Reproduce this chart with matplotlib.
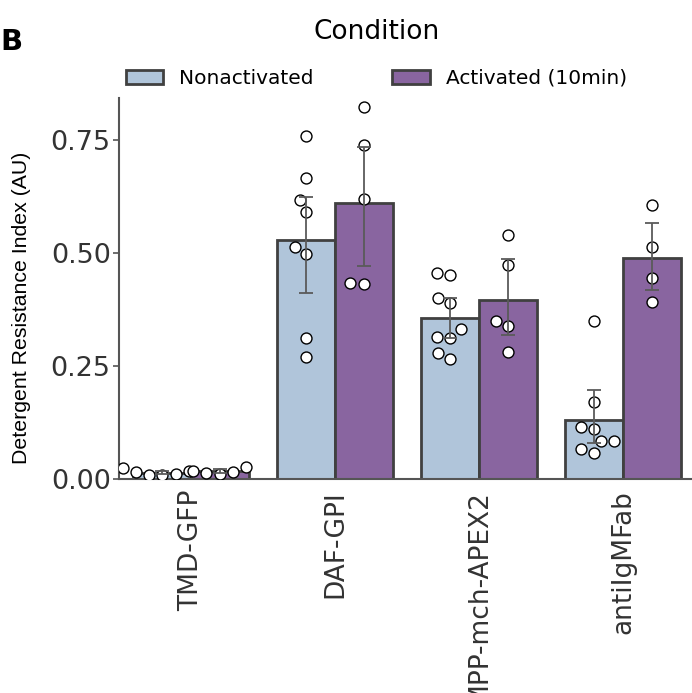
import numpy as np
import matplotlib
matplotlib.use("Agg")
import matplotlib.pyplot as plt
from matplotlib.patches import Patch

groups = ["TMD-GFP", "DAF-GPI", "MPP-mch-APEX2", "antiIgMFab"]
conditions = ["Nonactivated", "Activated (10min)"]
colors = ["#b0c5da", "#8965a0"]

# individual replicate values, per group, per condition
nonact_points = [
    [0.024, 0.017, 0.008, 0.009, 0.010, 0.015],
    [0.759, 0.665, 0.617, 0.591, 0.514, 0.498, 0.311, 0.271],
    [0.455, 0.451, 0.400, 0.390, 0.331, 0.315, 0.313, 0.279, 0.265],
    [0.350, 0.171, 0.110, 0.116, 0.083, 0.083, 0.066, 0.057],
]
act_points = [
    [0.018, 0.027, 0.013, 0.012, 0.016],
    [0.824, 0.740, 0.619, 0.434, 0.431],
    [0.540, 0.473, 0.350, 0.338, 0.282],
    [0.606, 0.514, 0.444, 0.392],
]

# 95% CI bounds
nonact_ci_low = [0.010, 0.412, 0.313, 0.079]
nonact_ci_high = [0.018, 0.625, 0.400, 0.197]
act_ci_low = [0.013, 0.471, 0.319, 0.418]
act_ci_high = [0.022, 0.735, 0.486, 0.566]

yticks = [0.0, 0.25, 0.5, 0.75]


def swarm_x(values, ax, center, diam):
    """Simple beeswarm: place each point as close to center as possible,
    left side wins ties (like seaborn)."""
    t = ax.transData
    ys = t.transform(np.column_stack([np.full(len(values), center), values]))[:, 1]
    ppu = t.transform((1, 0))[0] - t.transform((0, 0))[0]
    order = np.argsort(values, kind="stable")
    placed = []
    xs = np.zeros(len(values))
    for i in order:
        y = ys[i]
        left, right = [], []
        for px, py in placed:
            dy = abs(py - y)
            if dy < diam:
                dx = np.sqrt(diam ** 2 - dy ** 2)
                left.append(px - dx)
                right.append(px + dx)
        cands = [0.0] + left + right
        idx = np.argsort(np.abs(cands), kind="stable")
        c = 0.0
        for k in idx:
            c = cands[k]
            if all((c - px) ** 2 + (y - py) ** 2 >= diam ** 2 - 1e-6
                   for px, py in placed):
                break
        placed.append((c, y))
        xs[i] = center + c / ppu
    return xs


fig = plt.figure(figsize=(6.92, 6.93), dpi=100)
ax = fig.add_axes([119 / 692, 1 - 479 / 693, 576 / 692, 381 / 693])
ax.set_xlim(-0.5, 3.5)
ax.set_ylim(0, 0.843)

width = 0.4
x = np.arange(len(groups))
series = [
    (nonact_points, nonact_ci_low, nonact_ci_high, -width / 2),
    (act_points, act_ci_low, act_ci_high, width / 2),
]
for (pts, lo, hi, off), col, lab in zip(series, colors, conditions):
    means = np.array([np.mean(p) for p in pts])
    ax.bar(x + off, means, width=width, color=col, edgecolor="#404040",
           linewidth=2, zorder=1, label=lab)
    for xi, p in zip(x, pts):
        xs = swarm_x(np.array(p), ax, xi + off, 13.4)
        ax.scatter(xs, p, s=62, facecolor="white", edgecolor="black",
                   linewidths=1.0, zorder=3)
    yerr = np.vstack([means - np.array(lo), np.array(hi) - means])
    ax.errorbar(x + off, means, yerr=yerr, fmt="none", ecolor="#5a5a5a",
                elinewidth=1.3, capsize=4.7, capthick=1.3, zorder=4)

ax.set_xticks(x)
ax.set_xticklabels(groups, rotation=90, fontsize=19, family="DejaVu Sans")
ax.set_yticks(yticks)
ax.set_yticklabels([f"{v:.2f}" for v in yticks], fontsize=19.5)
ax.tick_params(axis="x", length=0, pad=8, colors="#333333")
ax.tick_params(axis="y", length=4, width=1.2, pad=2, colors="#333333",
               direction="out")
ax.tick_params(axis="y", color="#555555")
for side in ["top", "right"]:
    ax.spines[side].set_visible(False)
for side in ["left", "bottom"]:
    ax.spines[side].set_color("#555555")
    ax.spines[side].set_linewidth(1.5)

ax.set_ylabel("Detergent Resistance Index (AU)", fontsize=15.3,
              family="Liberation Sans")
ax.yaxis.set_label_coords(-0.153, 0.45)

handles = [Patch(facecolor=c, edgecolor="#404040", linewidth=2) for c in colors]
leg = ax.legend(handles, conditions, title="Condition", ncol=2,
                loc="lower center", bbox_to_anchor=(0.447, 1.0),
                frameon=False, fontsize=14.5, title_fontsize=19,
                handlelength=1.85, handleheight=0.65, handletextpad=0.8,
                columnspacing=3.9, borderaxespad=0.1)
leg._legend_box.sep = 17

fig.text(0.0, 0.94, "B", fontsize=21, fontweight="bold", va="center")

fig.savefig("out.png", dpi=100)
